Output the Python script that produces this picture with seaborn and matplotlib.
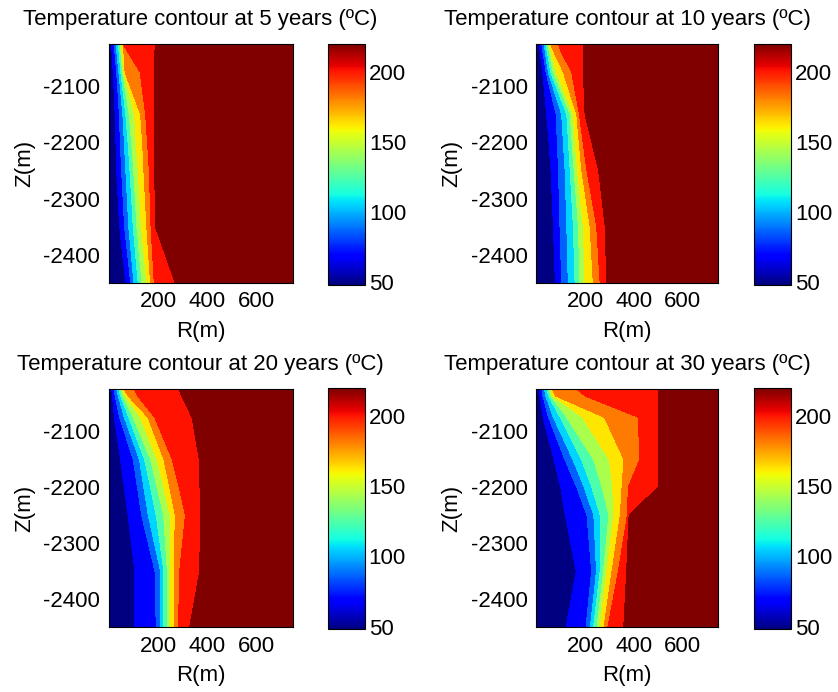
import numpy as np
import matplotlib
matplotlib.use("Agg")
import matplotlib.pyplot as plt
import seaborn as sns
from matplotlib.colors import Normalize
from matplotlib.cm import ScalarMappable

sns.set_theme(style="white")
plt.rcParams['font.family'] = ['Liberation Sans', 'DejaVu Sans']
plt.rcParams['axes.unicode_minus'] = False
plt.rcParams['text.color'] = 'black'
plt.rcParams['axes.labelcolor'] = 'black'
plt.rcParams['xtick.color'] = 'black'
plt.rcParams['ytick.color'] = 'black'

# ---------------- data ----------------
times = [5, 10, 20, 30]
z_rows = [-2025, -2037, -2075, -2150, -2200, -2250, -2350, -2450]
isotherms = [65, 82, 99, 116, 134, 151, 168, 185, 202]
t_min, t_max = 48, 220
r_max = 745

# radial position (m) of each isotherm on each depth row
iso_r_5 = [
    [12, 22, 30, 40, 46, 53, 60, 60, 189],
    [14, 25, 33, 42, 49, 55, 62, 75, 188],
    [19, 33, 42, 50, 57, 62, 67, 128, 184],
    [27, 44, 58, 70, 84, 105, 130, 150, 185],
    [30, 48, 64, 79, 93, 112, 138, 158, 186],
    [33, 53, 70, 87, 102, 120, 143, 165, 187],
    [45, 65, 82, 100, 115, 133, 155, 172, 190],
    [70, 90, 103, 120, 135, 155, 170, 185, 270],
]
iso_r_10 = [
    [11, 22, 31, 39, 46, 53, 59, 91, 194],
    [15, 26, 36, 44, 52, 60, 70, 100, 194],
    [26, 40, 49, 59, 70, 83, 111, 145, 193],
    [42, 81, 104, 125, 139, 152, 166, 177, 200],
    [52, 86, 111, 132, 147, 160, 176, 192, 228],
    [60, 91, 118, 139, 155, 169, 187, 208, 256],
    [70, 97, 125, 152, 173, 193, 221, 248, 283],
    [78, 104, 131, 159, 179, 200, 234, 262, 289],
]
iso_r_20 = [
    [13, 22, 33, 42, 49, 57, 63, 105, 285],
    [16, 27, 40, 50, 58, 70, 80, 118, 296],
    [24, 45, 64, 82, 100, 129, 160, 187, 338],
    [49, 100, 125, 146, 170, 197, 224, 258, 367],
    [64, 117, 143, 170, 197, 224, 248, 286, 370],
    [79, 134, 161, 193, 223, 250, 270, 311, 372],
    [107, 188, 211, 224, 238, 252, 266, 288, 369],
    [107, 193, 212, 224, 238, 252, 265, 283, 328],
]
iso_r_30 = [
    [12, 23, 34, 44, 52, 58, 66, 167, 500],
    [15, 27, 39, 50, 60, 68, 80, 202, 500],
    [28, 50, 70, 98, 125, 190, 280, 419, 500],
    [72, 117, 150, 185, 235, 300, 360, 425, 500],
    [100, 166, 197, 228, 271, 314, 352, 378, 500],
    [119, 208, 236, 263, 298, 318, 345, 374, 381],
    [164, 227, 247, 262, 276, 290, 311, 337, 371],
    [122, 204, 222, 235, 249, 262, 278, 294, 359],
]
iso_by_time = {5: iso_r_5, 10: iso_r_10, 20: iso_r_20, 30: iso_r_30}

x_ticks = [200, 400, 600]
z_ticks = [-2100, -2200, -2300, -2400]
cbar_ticks = [50, 100, 150, 200]

# ---------------- layout ----------------
W, H = 838, 692
fig = plt.figure(figsize=(W / 100, H / 100), dpi=100)
fig.patch.set_facecolor("white")

axes_pos = {
    5: [0.1295, 0.591, 0.2198, 0.3454],
    10: [0.6401, 0.591, 0.2163, 0.3454],
    20: [0.1295, 0.0935, 0.2198, 0.3439],
    30: [0.6401, 0.0935, 0.2163, 0.3439],
}
cbar_pos = {
    5: [0.392, 0.5882, 0.0436, 0.3483],
    10: [0.9001, 0.5882, 0.0434, 0.3483],
    20: [0.392, 0.0906, 0.0430, 0.3483],
    30: [0.9001, 0.0906, 0.0434, 0.3483],
}

jet = plt.get_cmap("jet")
band_colors = [jet(i / 9) for i in range(10)]
levels = [t_min - 1] + isotherms + [t_max + 1]
fs = 16

for t in times:
    rows = iso_by_time[t]
    X = np.array([[0] + list(r) + [r_max] for r in rows], dtype=float)
    Z = np.array([[z] * X.shape[1] for z in z_rows], dtype=float)
    T = np.array([[t_min] + isotherms + [t_max] for _ in rows], dtype=float)

    ax = fig.add_axes(axes_pos[t])
    ax.contourf(X, Z, T, levels=levels, colors=band_colors, antialiased=False)
    ax.set_xlim(0, r_max)
    ax.set_ylim(-2450, -2025)
    ax.set_xticks(x_ticks)
    ax.set_yticks(z_ticks)
    ax.tick_params(direction="in", top=True, right=True, length=4, width=0.8,
                   labelsize=fs, colors="black", pad=6)
    for s in ax.spines.values():
        s.set_visible(True)
        s.set_color("black")
        s.set_linewidth(0.8)
    ax.set_xlabel("R(m)", fontsize=fs, labelpad=6, color="black")
    ax.set_ylabel("Z(m)", fontsize=fs, labelpad=6, color="black")
    ax.set_title(f"Temperature contour at {t} years (ºC)", fontsize=fs, pad=14,
                 color="black")

    cax = fig.add_axes(cbar_pos[t])
    sm = ScalarMappable(norm=Normalize(t_min, t_max), cmap=jet)
    cb = fig.colorbar(sm, cax=cax, ticks=cbar_ticks)
    cb.outline.set_edgecolor("black")
    cb.outline.set_linewidth(0.8)
    cax.tick_params(direction="in", left=True, right=True, length=4, width=0.8,
                    labelsize=fs, colors="black", pad=3)

fig.savefig("out.png", dpi=100, facecolor="white")
